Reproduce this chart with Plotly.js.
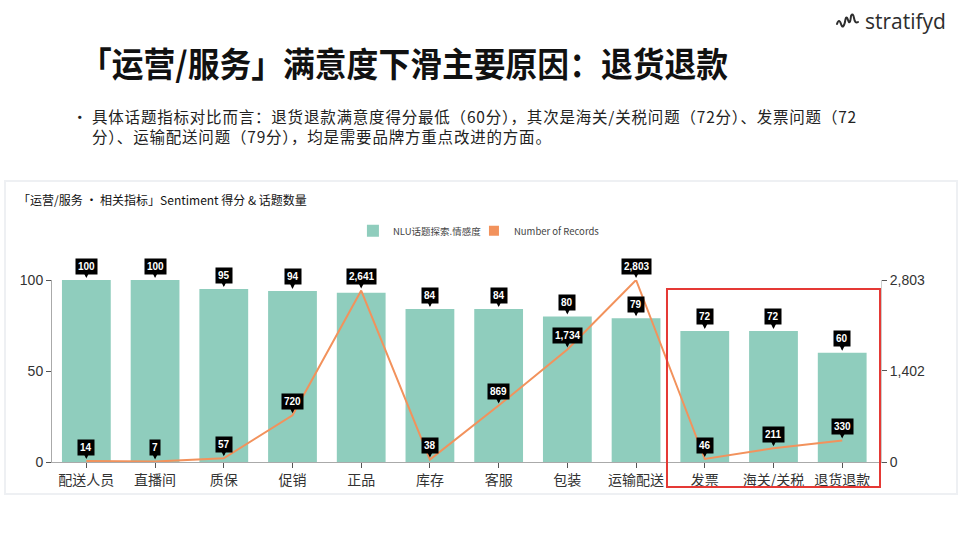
<!DOCTYPE html>
<html>
<head>
<meta charset="utf-8">
<script src="https://cdn.plot.ly/plotly-3.0.1.min.js"></script>
<style>
  body { margin: 0; width: 960px; height: 540px; background: #fff; position: relative; overflow: hidden;
         font-family: "Noto Sans CJK SC", "Noto Sans", sans-serif; }
  #logo { position: absolute; left: 836px; top: 6px; height: 30px; display: flex; align-items: center; }
  #logo span { font-family: "Open Sans", "Noto Sans", sans-serif; font-size: 21px; color: #2d2d2d; margin-left: 3px; }
  #title { position: absolute; left: 80px; top: 38px; font-size: 34px; font-weight: 700; color: #111;
           white-space: nowrap; transform: scaleX(0.935); transform-origin: left top; }
  .bl { position: absolute; font-size: 15.5px; color: #222; line-height: 18px; white-space: nowrap; letter-spacing: 0.8px; }
  #panel { position: absolute; left: 4px; top: 180px; width: 950px; height: 311px;
           border: 2px solid #eef0f3; background: #fff; }
  #chart { width: 950px; height: 311px; }
</style>
</head>
<body>
<div id="logo">
  <svg width="26" height="22" viewBox="0 0 26 22">
    <path d="M1 14 Q3 8 5 14 T9 12 Q10 4 12 10 T15 6 Q17 2 18 8 T22 12" fill="none" stroke="#2d2d2d" stroke-width="2" stroke-linecap="round"/>
  </svg>
  <span>stratifyd</span>
</div>
<div id="title">「运营/服务」满意度下滑主要原因：退货退款</div>
<div class="bl" style="left:72px; top:107px;">•</div>
<div class="bl" style="left:92px; top:107px;">具体话题指标对比而言：退货退款满意度得分最低（60分），其次是海关/关税问题（72分）、发票问题（72</div>
<div class="bl" style="left:92px; top:127px;">分）、运输配送问题（79分），均是需要品牌方重点改进的方面。</div>
<div id="panel"><div id="chart"></div></div>

<script>
// categories and values
const categories = ['配送人员', '直播间', '质保', '促销', '正品', '库存', '客服', '包装', '运输配送', '发票', '海关/关税', '退货退款'];
const sentiment = [100, 100, 95, 94, 93, 84, 84, 80, 79, 72, 72, 60];
const records = [14, 7, 57, 720, 2641, 38, 869, 1734, 2803, 46, 211, 330];

const barColor = '#8fcdbd';
const lineColor = '#f2925c';

const maxRecords = Math.max(...records);
const plotH = 182;

function labelBox(x, y, text, yref) {
    return {
        x: x, y: y, xref: 'x', yref: yref,
        text: text,
        showarrow: true, arrowhead: 2, arrowsize: 0.9, arrowwidth: 1.4, arrowcolor: '#000',
        ax: 0, ay: -14, standoff: 2,
        bgcolor: '#000', borderpad: 2,
        font: {family: 'Liberation Sans, Arial, sans-serif', size: 10, color: '#fff', weight: 700}
    };
}

// bar labels hidden where the line label sits on top of them
const annotations = [];
categories.forEach((c, i) => {
    const barPx = sentiment[i] / 100 * plotH;
    const linePx = records[i] / maxRecords * plotH;
    if (Math.abs(barPx - linePx) > 14) annotations.push(labelBox(c, sentiment[i], String(sentiment[i]), 'y'));
});
categories.forEach((c, i) => annotations.push(labelBox(c, records[i], records[i].toLocaleString('en-US'), 'y2')));

const traces = [
    {
        type: 'bar', x: categories, y: sentiment, name: 'NLU话题探索.情感度',
        marker: {color: barColor}, hoverinfo: 'x+y', legend: 'legend'
    },
    {
        type: 'scatter', mode: 'lines', x: categories, y: records, yaxis: 'y2',
        name: 'Number of Records', showlegend: false,
        line: {color: lineColor, width: 2}
    },
    {
        // legend swatch only
        type: 'scatter', mode: 'markers', x: [null], y: [null], yaxis: 'y2',
        name: 'Number of Records', legend: 'legend2',
        marker: {symbol: 'square', size: 10, color: lineColor}
    }
];

const axisFont = {family: 'Liberation Sans, Arial, sans-serif', size: 14, color: '#333'};
const legendFont = {family: 'Noto Sans CJK SC, sans-serif', size: 9.5, color: '#444'};

const layout = {
    width: 950, height: 311,
    margin: {l: 46, r: 75, t: 98, b: 31},
    paper_bgcolor: '#fff', plot_bgcolor: '#fff',
    bargap: 0.29,
    showlegend: true,
    title: {
        text: '「运营/服务 · 相关指标」Sentiment 得分 & 话题数量',
        xref: 'container', yref: 'container', x: 12 / 950, y: 1 - 19 / 311,
        xanchor: 'left', yanchor: 'middle',
        font: {family: 'Noto Sans CJK SC, sans-serif', size: 12, color: '#111', weight: 400}
    },
    legend: {
        orientation: 'h', x: 0.363, xanchor: 'left', y: 1.27, yanchor: 'middle',
        font: legendFont, itemwidth: 20, bgcolor: 'rgba(0,0,0,0)'
    },
    legend2: {
        orientation: 'h', x: 0.509, xanchor: 'left', y: 1.27, yanchor: 'middle',
        font: legendFont, itemwidth: 20, bgcolor: 'rgba(0,0,0,0)'
    },
    xaxis: {
        type: 'category', showline: true, linecolor: '#aaa', linewidth: 1,
        ticks: 'outside', ticklen: 5, tickcolor: '#555',
        tickfont: {family: 'Noto Sans CJK SC, sans-serif', size: 14, color: '#333'},
        showgrid: false, zeroline: false
    },
    yaxis: {
        range: [0, 100], tickvals: [0, 50, 100], showline: true, linecolor: '#aaa',
        ticks: 'outside', ticklen: 5, tickcolor: '#555', tickfont: axisFont,
        showgrid: false, zeroline: false
    },
    yaxis2: {
        overlaying: 'y', side: 'right', range: [0, maxRecords],
        tickvals: [0, Math.round(maxRecords / 2), maxRecords], tickformat: ',',
        showline: true, linecolor: '#ccc', ticks: 'outside', ticklen: 5, tickcolor: '#555',
        tickfont: axisFont, showgrid: false, zeroline: false
    },
    shapes: [{
        type: 'rect', xref: 'x', yref: 'paper',
        x0: 8.45, x1: 11.55, y0: -0.137, y1: 0.95,
        line: {color: '#e53935', width: 2}
    }],
    annotations: annotations
};

Plotly.newPlot('chart', traces, layout, {displayModeBar: false, staticPlot: true});
</script>
</body>
</html>
